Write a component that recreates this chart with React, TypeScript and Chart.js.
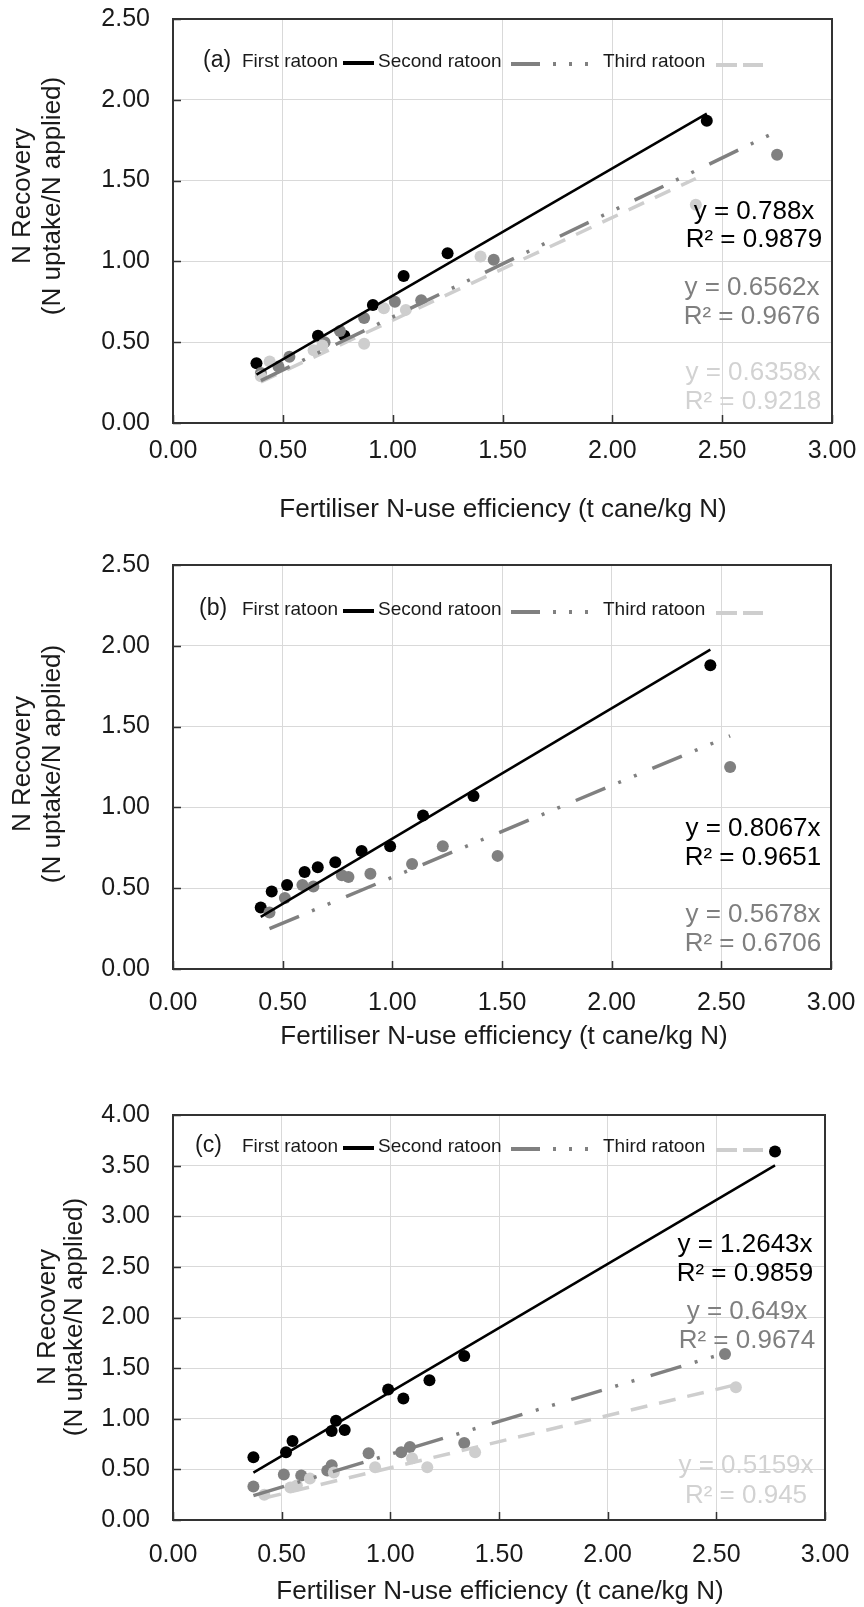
import React, { useEffect, useRef } from "react";
import { Chart, registerables } from "chart.js";

Chart.register(...registerables);

const FONT = "'Liberation Sans', Arial, Helvetica, sans-serif";
const TEXT = "#1a1a1a";
const BLACK = "#000000";
const GREY = "#808080";
const LIGHT = "#cecece";

const seriesNames = ["First ratoon", "Second ratoon", "Third ratoon"];
const xAxisTitle = "Fertiliser N-use efficiency (t cane/kg N)";
const yAxisTitle = ["N Recovery", "(N uptake/N applied)"];

const xTickValues = [0, 0.5, 1, 1.5, 2, 2.5, 3];
const yTickValuesAB = [0, 0.5, 1, 1.5, 2, 2.5];
const yTickValuesC = [0, 0.5, 1, 1.5, 2, 2.5, 3, 3.5, 4];

// (a)
const aFirstX = [0.38, 0.66, 0.78, 0.91, 1.05, 1.25, 2.43];
const aFirstY = [0.37, 0.54, 0.54, 0.73, 0.91, 1.05, 1.87];
const aSecondX = [0.4, 0.48, 0.53, 0.69, 0.76, 0.87, 1.01, 1.13, 1.46, 2.75];
const aSecondY = [0.31, 0.35, 0.41, 0.5, 0.57, 0.65, 0.75, 0.76, 1.01, 1.66];
const aThirdX = [0.4, 0.44, 0.64, 0.68, 0.87, 0.96, 1.06, 1.4, 2.38];
const aThirdY = [0.29, 0.38, 0.45, 0.48, 0.49, 0.71, 0.7, 1.03, 1.35];
const aSlopes = [0.788, 0.6562, 0.6358];
const aR2 = [0.9879, 0.9676, 0.9218];

// (b)
const bFirstX = [0.4, 0.45, 0.52, 0.6, 0.66, 0.74, 0.86, 0.99, 1.14, 1.37, 2.45];
const bFirstY = [0.38, 0.48, 0.52, 0.6, 0.63, 0.66, 0.73, 0.76, 0.95, 1.07, 1.88];
const bSecondX = [0.44, 0.51, 0.59, 0.64, 0.77, 0.8, 0.9, 1.09, 1.23, 1.48, 2.54];
const bSecondY = [0.35, 0.44, 0.52, 0.51, 0.58, 0.57, 0.59, 0.65, 0.76, 0.7, 1.25];
const bThirdX: number[] = [];
const bThirdY: number[] = [];
const bSlopes = [0.8067, 0.5678];
const bR2 = [0.9651, 0.6706];

// (c)
const cFirstX = [0.37, 0.52, 0.55, 0.73, 0.75, 0.79, 0.99, 1.06, 1.18, 1.34, 2.77];
const cFirstY = [0.62, 0.67, 0.78, 0.88, 0.98, 0.89, 1.29, 1.2, 1.38, 1.62, 3.64];
const cSecondX = [0.37, 0.51, 0.59, 0.71, 0.73, 0.9, 1.05, 1.09, 1.34, 2.54];
const cSecondY = [0.33, 0.45, 0.44, 0.49, 0.54, 0.66, 0.67, 0.72, 0.76, 1.64];
const cThirdX = [0.42, 0.54, 0.57, 0.63, 0.74, 0.93, 1.1, 1.17, 1.39, 2.59];
const cThirdY = [0.25, 0.32, 0.34, 0.41, 0.47, 0.52, 0.61, 0.52, 0.67, 1.31];
const cSlopes = [1.2643, 0.649, 0.5159];
const cR2 = [0.9859, 0.9674, 0.945];

type Series = { x: number[]; y: number[] };

type PanelSpec = {
  tag: string;
  canvasTop: number;
  canvasHeight: number;
  plot: { left: number; top: number; right: number; bottom: number };
  yTicks: number[];
  series: Series[];
  slopes: number[];
  r2: number[];
  eq: { cx: number; y1: number; y2: number }[];
  tagX: number;
  legendY: number;
  xLabelPad: number;
  xTitle: { x: number; y: number };
  yTitle: { x1: number; x2: number; y: number };
};

const CANVAS_W = 864;

const seriesColor = [BLACK, GREY, LIGHT];
const eqColor = ["#000000", "#7f7f7f", "#d2d2d2"];
const trendDash = [[], [32, 14, 3, 14, 3, 17], [17, 12]];
const trendWidth = [2.5, 3.5, 3.5];

const panels: PanelSpec[] = [
  {
    tag: "(a)",
    canvasTop: 0,
    canvasHeight: 535,
    plot: { left: 173, top: 19, right: 832, bottom: 423 },
    yTicks: yTickValuesAB,
    series: [
      { x: aFirstX, y: aFirstY },
      { x: aSecondX, y: aSecondY },
      { x: aThirdX, y: aThirdY },
    ],
    slopes: aSlopes,
    r2: aR2,
    eq: [
      { cx: 754, y1: 212, y2: 240 },
      { cx: 752, y1: 288, y2: 317 },
      { cx: 753, y1: 373, y2: 402 },
    ],
    tagX: 203,
    legendY: 62,
    xLabelPad: 13,
    xTitle: { x: 503, y: 510 },
    yTitle: { x1: 23, x2: 53, y: 196 },
  },
  {
    tag: "(b)",
    canvasTop: 535,
    canvasHeight: 530,
    plot: { left: 173, top: 30, right: 831, bottom: 434 },
    yTicks: yTickValuesAB,
    series: [
      { x: bFirstX, y: bFirstY },
      { x: bSecondX, y: bSecondY },
      { x: bThirdX, y: bThirdY },
    ],
    slopes: bSlopes,
    r2: bR2,
    eq: [
      { cx: 753, y1: 294, y2: 323 },
      { cx: 753, y1: 380, y2: 409 },
    ],
    tagX: 199,
    legendY: 75,
    xLabelPad: 19,
    xTitle: { x: 504, y: 502 },
    yTitle: { x1: 23, x2: 53, y: 229 },
  },
  {
    tag: "(c)",
    canvasTop: 1065,
    canvasHeight: 542,
    plot: { left: 173, top: 50, right: 825, bottom: 455 },
    yTicks: yTickValuesC,
    series: [
      { x: cFirstX, y: cFirstY },
      { x: cSecondX, y: cSecondY },
      { x: cThirdX, y: cThirdY },
    ],
    slopes: cSlopes,
    r2: cR2,
    eq: [
      { cx: 745, y1: 180, y2: 209 },
      { cx: 747, y1: 247, y2: 276 },
      { cx: 746, y1: 401, y2: 431 },
    ],
    tagX: 195,
    legendY: 82,
    xLabelPad: 20,
    xTitle: { x: 500, y: 527 },
    yTitle: { x1: 48, x2: 75, y: 252 },
  },
];

function segment(
  ctx: CanvasRenderingContext2D,
  x1: number,
  x2: number,
  y: number,
  color: string,
  width: number,
  dash: number[]
) {
  ctx.save();
  ctx.strokeStyle = color;
  ctx.lineWidth = width;
  ctx.lineCap = "butt";
  ctx.setLineDash(dash);
  ctx.beginPath();
  ctx.moveTo(x1, y);
  ctx.lineTo(x2, y);
  ctx.stroke();
  ctx.restore();
}

function decorPlugin(p: PanelSpec) {
  return {
    id: "panelDecor",
    afterDraw(chart: Chart) {
      const ctx = chart.ctx;
      const area = chart.chartArea;
      const xs = chart.scales.x;
      const ys = chart.scales.y;

      ctx.save();
      // plot frame
      ctx.strokeStyle = "#333333";
      ctx.lineWidth = 2;
      ctx.strokeRect(area.left, area.top, area.right - area.left, area.bottom - area.top);

      // inward tick marks
      ctx.lineWidth = 1.5;
      ctx.strokeStyle = "#333333";
      ctx.beginPath();
      for (const v of xTickValues) {
        const px = Math.round(xs.getPixelForValue(v)) + 0.5;
        ctx.moveTo(px, area.bottom);
        ctx.lineTo(px, area.bottom - 8);
      }
      for (const v of p.yTicks) {
        const py = Math.round(ys.getPixelForValue(v)) + 0.5;
        ctx.moveTo(area.left, py);
        ctx.lineTo(area.left + 8, py);
      }
      ctx.stroke();

      // axis titles
      ctx.fillStyle = TEXT;
      ctx.font = `26px ${FONT}`;
      ctx.textAlign = "center";
      ctx.textBaseline = "middle";
      ctx.fillText(xAxisTitle, p.xTitle.x, p.xTitle.y);

      ctx.save();
      ctx.translate(p.yTitle.x1, p.yTitle.y);
      ctx.rotate(-Math.PI / 2);
      ctx.fillText(yAxisTitle[0], 0, 0);
      ctx.restore();
      ctx.save();
      ctx.translate(p.yTitle.x2, p.yTitle.y);
      ctx.rotate(-Math.PI / 2);
      ctx.fillText(yAxisTitle[1], 0, 0);
      ctx.restore();

      // legend row
      const ly = p.legendY;
      ctx.textAlign = "left";
      ctx.font = `23px ${FONT}`;
      ctx.fillText(p.tag, p.tagX, ly - 1);
      ctx.font = `19px ${FONT}`;
      ctx.fillText(seriesNames[0], 242, ly);
      segment(ctx, 343, 374, ly + 1, BLACK, 4, []);
      ctx.fillText(seriesNames[1], 378, ly);
      segment(ctx, 511, 598, ly + 2, GREY, 4, [29, 13, 3, 13, 3, 13, 3, 40]);
      ctx.fillText(seriesNames[2], 603, ly);
      segment(ctx, 716, 763, ly + 3, LIGHT, 4, [21, 6]);

      // trendline equations
      ctx.textAlign = "center";
      ctx.font = `26px ${FONT}`;
      p.eq.forEach((e, i) => {
        ctx.fillStyle = eqColor[i];
        ctx.fillText(`y = ${p.slopes[i]}x`, e.cx, e.y1);
        ctx.fillText(`R² = ${p.r2[i]}`, e.cx, e.y2);
      });
      ctx.restore();
    },
  };
}

function buildConfig(p: PanelSpec): any {
  const datasets: any[] = [];
  p.series.forEach((s, i) => {
    if (s.x.length === 0) return;
    const slope = p.slopes[i];
    if (slope !== undefined) {
      const lo = Math.min(...s.x);
      const hi = Math.max(...s.x);
      datasets.push({
        label: `${seriesNames[i]} trend`,
        data: [
          { x: lo, y: slope * lo },
          { x: hi, y: slope * hi },
        ],
        showLine: true,
        borderColor: seriesColor[i],
        borderWidth: trendWidth[i],
        borderDash: trendDash[i],
        borderCapStyle: "butt",
        pointRadius: 0,
        fill: false,
        order: i,
      });
    }
    datasets.push({
      label: seriesNames[i],
      data: s.x.map((x, k) => ({ x, y: s.y[k] })),
      showLine: false,
      pointRadius: 6,
      pointBorderWidth: 0,
      backgroundColor: seriesColor[i],
      borderColor: seriesColor[i],
      order: 5 - i,
    });
  });

  const tickFont = { family: FONT, size: 25 };
  const yMax = p.yTicks[p.yTicks.length - 1];

  return {
    type: "scatter",
    data: { datasets },
    options: {
      responsive: false,
      animation: false,
      devicePixelRatio: 1,
      layout: {
        padding: {
          left: 0,
          top: p.plot.top,
          right: CANVAS_W - p.plot.right,
          bottom: 0,
        },
      },
      plugins: {
        legend: { display: false },
        tooltip: { enabled: false },
      },
      scales: {
        x: {
          type: "linear",
          min: xTickValues[0],
          max: xTickValues[xTickValues.length - 1],
          afterFit: (s: any) => {
            s.height = p.canvasHeight - p.plot.bottom;
            s.paddingLeft = 0;
            s.paddingRight = 0;
            s.paddingTop = 0;
            s.paddingBottom = 0;
          },
          afterBuildTicks: (s: any) => {
            s.ticks = xTickValues.map((v) => ({ value: v }));
          },
          ticks: {
            callback: (v: any) => Number(v).toFixed(2),
            font: tickFont,
            color: TEXT,
            padding: p.xLabelPad,
            maxRotation: 0,
            autoSkip: false,
          },
          grid: { color: "#d9d9d9", lineWidth: 1, drawTicks: false },
          border: { display: false },
        },
        y: {
          type: "linear",
          min: p.yTicks[0],
          max: yMax,
          afterFit: (s: any) => {
            s.width = p.plot.left;
            s.paddingLeft = 0;
            s.paddingRight = 0;
            s.paddingTop = 0;
            s.paddingBottom = 0;
          },
          afterBuildTicks: (s: any) => {
            s.ticks = p.yTicks.map((v) => ({ value: v }));
          },
          ticks: {
            callback: (v: any) => Number(v).toFixed(2),
            font: tickFont,
            color: TEXT,
            padding: 23,
            autoSkip: false,
          },
          grid: { color: "#d9d9d9", lineWidth: 1, drawTicks: false },
          border: { display: false },
        },
      },
    },
    plugins: [decorPlugin(p)],
  };
}

function PanelChart({ spec }: { spec: PanelSpec }) {
  const ref = useRef<HTMLCanvasElement>(null);
  useEffect(() => {
    const canvas = ref.current;
    if (!canvas) return;
    const chart = new Chart(canvas, buildConfig(spec));
    return () => chart.destroy();
  }, [spec]);
  return (
    <canvas
      ref={ref}
      width={CANVAS_W}
      height={spec.canvasHeight}
      style={{
        position: "absolute",
        left: 0,
        top: spec.canvasTop,
        width: CANVAS_W,
        height: spec.canvasHeight,
      }}
    />
  );
}

export default function App() {
  return (
    <div
      style={{
        position: "absolute",
        left: 0,
        top: 0,
        width: CANVAS_W,
        height: 1607,
        background: "#ffffff",
      }}
    >
      {panels.map((p) => (
        <PanelChart key={p.tag} spec={p} />
      ))}
    </div>
  );
}
